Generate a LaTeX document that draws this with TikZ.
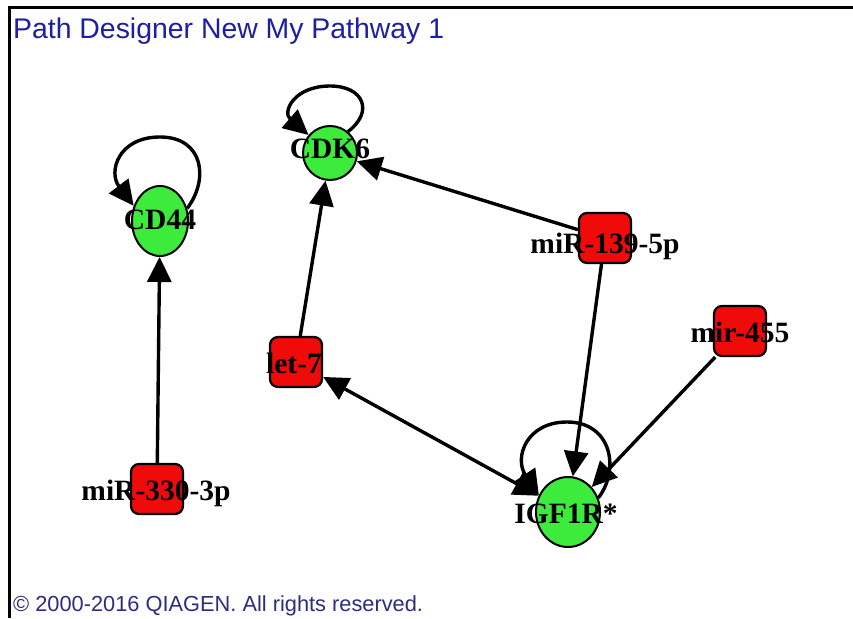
\documentclass[tikz,border=0pt]{standalone}
\usepackage{fontspec}
\setmainfont{Liberation Serif}
\newfontfamily\arialf{Liberation Sans}
\usetikzlibrary{arrows.meta,shapes.geometric}
\definecolor{nodegreen}{RGB}{60,235,60}
\definecolor{nodered}{RGB}{240,10,10}
\definecolor{titleblue}{RGB}{30,30,165}
\definecolor{footblue}{RGB}{45,45,130}
\tikzset{
  gene/.style={ellipse, draw=black, line width=2pt, fill=nodegreen, inner sep=0pt},
  mirbox/.style={rectangle, rounded corners=8pt, draw=black, line width=2.2pt, fill=nodered, minimum width=52pt, minimum height=50pt, inner sep=0pt},
  lbl/.style={anchor=base, inner sep=0pt, font=\fontsize{29.5}{31}\selectfont\bfseries},
  arr/.style={line width=3.4pt, -{Triangle[length=25pt,width=24pt]}},
  darr/.style={line width=3.4pt, {Triangle[length=25pt,width=24pt]}-{Triangle[length=25pt,width=24pt]}},
}
\begin{document}
\begin{tikzpicture}[x=1pt,y=-1pt]
\useasboundingbox (0,0) rectangle (853,618);
\fill[white] (0,0) rectangle (853,618);
% frame
\draw[line width=3pt] (9,618) -- (9,8) -- (853,8);
% title and footer
\node[anchor=base west, inner sep=0pt, text=titleblue, font=\arialf\fontsize{28.4}{30}\selectfont] (title) at (13,39) {Path Designer New My Pathway 1};
\node[anchor=base west, inner sep=0pt, text=footblue, font=\arialf\fontsize{21.8}{24}\selectfont] (foot) at (13,611) {© 2000-2016 QIAGEN. All rights reserved.};
% nodes
\node[gene, minimum width=56pt, minimum height=70pt] (cd44) at (160,221) {};
\node[gene, minimum width=54pt, minimum height=54pt] (cdk6) at (330,153) {};
\node[gene, minimum width=64pt, minimum height=70pt] (igf) at (568,512) {};
\node[mirbox] (m139) at (605,238) {};
\node[mirbox] (m455) at (740,331) {};
\node[mirbox] (m330) at (157,489) {};
\node[mirbox] (let7) at (296,362) {};
% edges
\draw[arr] (m330) -- (cd44);
\draw[arr] (let7) -- (cdk6);
\draw[arr] (m139) -- (cdk6);
\draw[arr] (m139) -- (igf);
\draw[arr] (m455) -- (igf);
\draw[darr] (let7) -- (igf);
% self loops
\draw[arr] (cd44.25) .. controls (209,180) and (204,137) .. (160,137) .. controls (118,137) and (108,172) .. (cd44.150);
\draw[arr] (cdk6.50) .. controls (374,112) and (364,86) .. (330,86) .. controls (294,86) and (282,112) .. (cdk6.140);
\draw[arr] (igf.25) .. controls (620,470) and (612,422) .. (567,422) .. controls (526,422) and (514,458) .. (igf.150);
% labels
\node[lbl] (lcd44) at (160,229) {CD44};
\node[lbl] (lcdk6) at (330,158) {CDK6};
\node[lbl] (ligf) at (566,523) {IGF1R*};
\node[lbl] (l139) at (605,253) {miR-139-5p};
\node[lbl] (l455) at (740,342) {mir-455};
\node[lbl] (l330) at (156,500) {miR-330-3p};
\node[lbl] (llet7) at (294,373) {let-7};
\end{tikzpicture}
\end{document}
